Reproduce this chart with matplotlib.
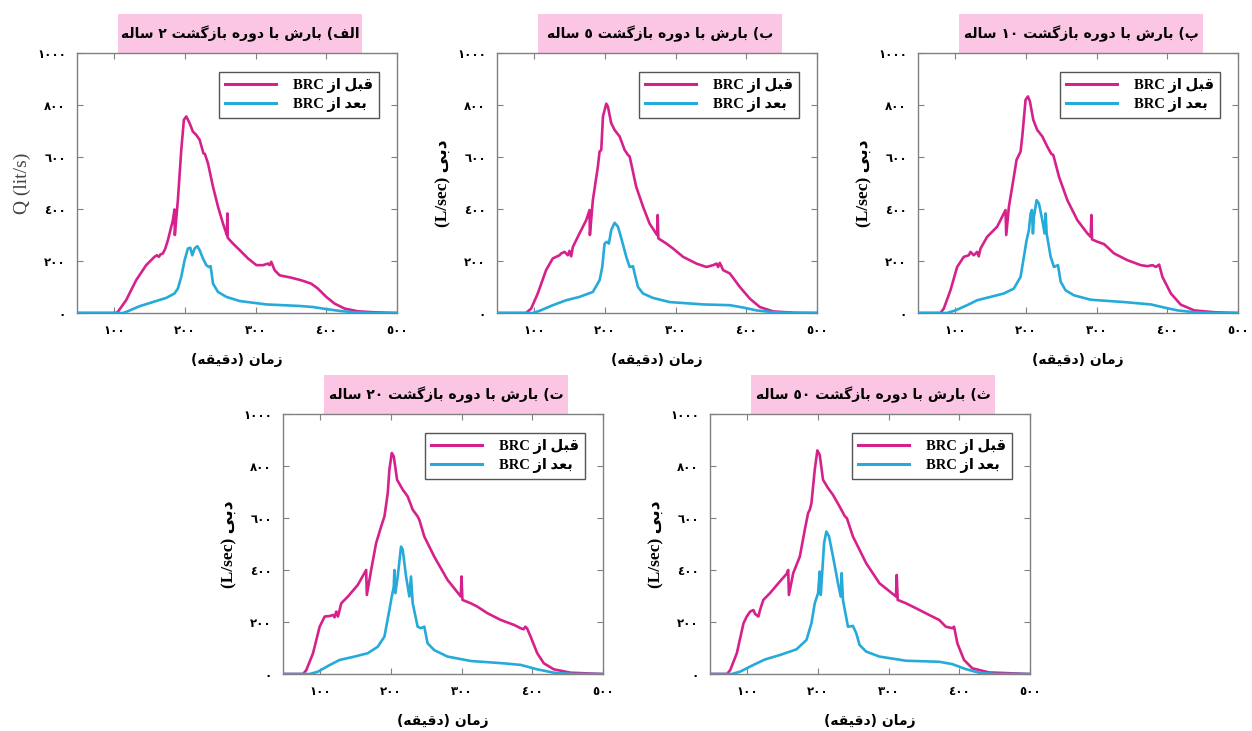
import re
import matplotlib
matplotlib.use('Agg')
import matplotlib.pyplot as plt
from matplotlib.patches import Rectangle
from matplotlib.ticker import FuncFormatter

# ---- data ----
titles = ['الف) بارش با دوره بازگشت ۲ ساله',
          'ب) بارش با دوره بازگشت ۵ ساله',
          'پ) بارش با دوره بازگشت ۱۰ ساله',
          'ت) بارش با دوره بازگشت ۲۰ ساله',
          'ث) بارش با دوره بازگشت ۵۰ ساله']
series_names = ['قبل از BRC', 'بعد از BRC']
xlabel = 'زمان (دقیقه)'
ylabels = ['Q (lit/s)', 'دبی (L/sec)', 'دبی (L/sec)', 'دبی (L/sec)', 'دبی (L/sec)']
xticks = [100, 200, 300, 400, 500]
yticks = [0, 200, 400, 600, 800, 1000]

t_before_2 = [46, 102, 104.7, 116.5, 130.7, 144.9, 156.7, 160, 163, 165, 168.6, 172, 175.7, 182.7, 185, 185.5,
              189.8, 194.6, 198.3, 201.7, 206.4, 211, 215.8, 220.6, 226, 228, 232.4, 239.5, 246.6, 253.7, 258.4,
              259.3, 259.8, 260.2, 267.8, 277.3, 289, 301, 310.4, 317.3, 319.6, 322, 326.7, 333.8, 350, 364.3,
              378.5, 388, 399.8, 411.7, 425.9, 444.8, 468.4, 500]
q_before_2 = [0, 0, 4, 49, 126, 184, 216, 222, 216, 225, 229, 248, 280, 357, 398, 300, 434, 627, 743, 756, 730,
              698, 685, 666, 614, 612, 576, 486, 409, 344, 306, 300, 383, 290, 267, 242, 210, 184, 184, 190, 184,
              197, 165, 145, 136, 126, 113, 94, 62, 36, 17, 6.4, 2.6, 0]
t_after_2 = [46, 112, 116.5, 135.5, 154.4, 173.3, 185, 189.8, 194.6, 199.3, 204, 207.4, 210.2, 213.5, 217.3, 220.6,
             225.3, 230, 233.8, 236.2, 239.5, 246.6, 258.4, 277.3, 315, 362.4, 381, 400, 419, 438, 468, 500]
q_after_2 = [0, 0, 4, 26, 42, 58, 75, 94, 139, 203, 248, 251, 222, 248, 257, 242, 210, 184, 177, 180, 113, 81, 62,
             46, 33, 27, 23, 15, 8, 3, 0, 0]

t_before_5 = [46, 88, 95.3, 104.7, 116.5, 126, 135.5, 137.8, 142.6, 147.3, 149.6, 152, 154.4, 163.8, 173.3, 178,
              178.5, 182.7, 189.8, 192.2, 194.6, 197, 201.7, 204, 208.7, 213.5, 220.6, 227.7, 232.4, 234.8, 244,
              253.7, 263, 273.5, 274.5, 275.4, 286.8, 296.2, 310.4, 329.3, 343.5, 353, 357.7, 360, 362.4, 367.1,
              376.6, 390.8, 405, 419, 438, 468, 500]
q_before_5 = [0, 0, 17, 75, 165, 210, 222, 229, 235, 222, 239, 218, 254, 306, 357, 396, 300, 434, 563, 621, 627,
              756, 805, 794, 730, 704, 679, 627, 608, 602, 486, 409, 344, 300, 377, 287, 267, 248, 216, 190, 177,
              184, 190, 177, 193, 165, 152, 100, 55, 23, 6, 1, 0]
t_after_5 = [46, 97.6, 107, 126, 144.9, 163.8, 182.7, 192.2, 196, 199.3, 202.6, 205.4, 208.7, 213.5, 218.2, 223,
             230, 234.8, 239.5, 241.8, 246.6, 253.7, 267.8, 291.5, 338.8, 376.6, 395.5, 414.4, 438, 468, 500]
q_after_5 = [0, 0, 8, 30, 49, 62, 81, 126, 177, 267, 274, 267, 319, 347, 332, 287, 216, 177, 180, 152, 100, 75, 58,
             42, 33, 30, 21, 10, 3, 0, 0]

t_before_10 = [46, 78.7, 83.5, 92.9, 102.4, 111.8, 118.9, 121.3, 126, 130.7, 133, 135.5, 144.9, 159.1, 170.9,
               171.9, 175.7, 182.7, 186.5, 192.2, 194.6, 199.3, 202.6, 205.4, 210.2, 215.8, 223, 230, 235.7, 238.5,
               246.6, 258.4, 272.6, 286.8, 291.5, 292.4, 293.4, 301, 310.4, 324.6, 343.5, 362.4, 371.9, 379, 383.7,
               388.4, 393, 405, 419, 438, 468, 500]
q_before_10 = [0, 0, 17, 87, 177, 216, 222, 235, 222, 235, 218, 248, 293, 332, 396, 300, 409, 524, 589, 621, 679,
               820, 833, 814, 743, 704, 679, 640, 612, 608, 524, 434, 357, 306, 293, 377, 283, 274, 265, 229, 203,
               184, 180, 184, 177, 186, 139, 75, 32, 10, 2.6, 0]
t_after_10 = [46, 88, 100, 116.5, 130.7, 149.6, 168.6, 182.7, 192.2, 196.9, 200.7, 204, 206.4, 208.3, 209.7, 211.1,
              214.9, 218.2, 223, 226.2, 227.7, 229.1, 234.8, 239.5, 245.2, 249, 256, 267.8, 291.5, 338.8, 376.6,
              395.5, 414.4, 438, 468, 500]
q_after_10 = [0, 0, 10, 30, 49, 62, 75, 94, 139, 216, 280, 319, 383, 396, 306, 370, 434, 421, 357, 306, 383, 306,
              216, 177, 184, 120, 87, 68, 51, 42, 33, 21, 10, 3, 0, 0]

t_before_20 = [48, 75.4, 80, 89.5, 98.9, 106, 113, 117.7, 120, 122.4, 124.8, 129.5, 138.9, 153, 164.7, 165.7,
               171.8, 178.8, 185.9, 190.6, 192, 195.3, 197.6, 201, 203.8, 208.5, 216.5, 223.5, 230.6, 237.6, 240,
               247, 261, 279.9, 298.7, 299.7, 301, 312.8, 322.2, 336.3, 355.1, 373.9, 383.4, 387.5, 390, 392.4,
               397.5, 406.9, 416.3, 430.4, 453.9, 500]
q_before_20 = [0, 0, 15, 80, 182, 221, 223, 227, 218, 240, 221, 272, 298, 343, 400, 304, 400, 503, 567, 606, 632,
               696, 786, 850, 837, 747, 709, 683, 632, 606, 593, 529, 452, 362, 298, 375, 285, 272, 259, 234, 208,
               189, 176, 172, 182, 176, 144, 80, 41, 18, 5, 0]
t_after_20 = [48, 84.8, 96.6, 110.7, 127.1, 148.3, 167.1, 181.2, 190.6, 197.6, 201, 203.8, 204.7, 206.1, 209.4,
              214.1, 216.5, 221.2, 225.9, 228.2, 230.6, 237.6, 242.3, 247, 251.7, 261, 279.9, 312.8, 359.8, 383.4,
              406.9, 430.4, 458.6, 500]
q_after_20 = [0, 0, 9, 31, 54, 67, 80, 105, 144, 246, 298, 336, 400, 311, 375, 490, 478, 375, 298, 375, 272, 182,
              176, 182, 118, 92, 67, 50, 41, 35, 18, 5, 0, 0]

t_before_50 = [48, 71, 75.6, 85, 94.4, 99, 103.8, 108.5, 110.8, 115.5, 117.8, 122.5, 131.9, 146, 155.4, 157.7,
               158.7, 164.8, 174.2, 181.2, 185.9, 188.3, 190.6, 195.3, 199, 202.3, 207, 214.1, 221.1, 230.5, 237.6,
               240.8, 249.3, 268.1, 286.9, 310.3, 311.3, 312.7, 324.4, 338.5, 357.3, 371.4, 380.8, 390.1, 392.5,
               397.2, 406.6, 418.3, 441.8, 500]
q_before_50 = [0, 0, 15, 80, 195, 221, 240, 246, 231, 221, 246, 285, 311, 356, 385, 400, 304, 388, 452, 555, 619,
               632, 657, 786, 860, 843, 747, 715, 689, 644, 608, 599, 529, 426, 349, 298, 381, 285, 272, 253, 227,
               208, 182, 176, 182, 118, 54, 22, 6, 0]
t_after_50 = [48, 78, 89.7, 108.5, 124.9, 146, 169.5, 183.6, 190.6, 195.3, 200, 202.3, 203.8, 206.1, 208.5, 211.7,
              215.5, 221.1, 228.2, 232, 233.4, 235.2, 242.3, 249.3, 254, 258.7, 268.1, 286.9, 324.4, 371.4, 390.1,
              408.9, 427.7, 451, 500]
q_after_50 = [0, 0, 9, 35, 56, 73, 95, 131, 195, 272, 311, 394, 304, 400, 503, 548, 529, 452, 349, 298, 388, 285,
              182, 185, 157, 112, 86, 67, 51, 47, 38, 19, 5, 0, 0]

before = [(t_before_2, q_before_2), (t_before_5, q_before_5), (t_before_10, q_before_10),
          (t_before_20, q_before_20), (t_before_50, q_before_50)]
after = [(t_after_2, q_after_2), (t_after_5, q_after_5), (t_after_10, q_after_10),
         (t_after_20, q_after_20), (t_after_50, q_after_50)]

# ---- minimal persian shaping (matplotlib has no shaping / bidi) ----
# isolated, final, initial, medial
FORMS = {
    'ا': ('\uFE8D', '\uFE8E', None, None),
    'ب': ('\uFE8F', '\uFE90', '\uFE91', '\uFE92'),
    'پ': ('\uFB56', '\uFB57', '\uFB58', '\uFB59'),
    'ت': ('\uFE95', '\uFE96', '\uFE97', '\uFE98'),
    'ث': ('\uFE99', '\uFE9A', '\uFE9B', '\uFE9C'),
    'د': ('\uFEA9', '\uFEAA', None, None),
    'ر': ('\uFEAD', '\uFEAE', None, None),
    'ز': ('\uFEAF', '\uFEB0', None, None),
    'س': ('\uFEB1', '\uFEB2', '\uFEB3', '\uFEB4'),
    'ش': ('\uFEB5', '\uFEB6', '\uFEB7', '\uFEB8'),
    'ع': ('\uFEC9', '\uFECA', '\uFECB', '\uFECC'),
    'ف': ('\uFED1', '\uFED2', '\uFED3', '\uFED4'),
    'ق': ('\uFED5', '\uFED6', '\uFED7', '\uFED8'),
    'گ': ('\uFB92', '\uFB93', '\uFB94', '\uFB95'),
    'ل': ('\uFEDD', '\uFEDE', '\uFEDF', '\uFEE0'),
    'م': ('\uFEE1', '\uFEE2', '\uFEE3', '\uFEE4'),
    'ن': ('\uFEE5', '\uFEE6', '\uFEE7', '\uFEE8'),
    'ه': ('\uFEE9', '\uFEEA', '\uFEEB', '\uFEEC'),
    'و': ('\uFEED', '\uFEEE', None, None),
    'ی': ('\uFBFC', '\uFBFD', '\uFBFE', '\uFBFF'),
}
DIGITS = str.maketrans('۰۱۲۳۴۵۶۷۸۹0123456789', '٠١٢٣٤٥٦٧٨٩٠١٢٣٤٥٦٧٨٩')


def fa(text):
    text = text.translate(DIGITS)
    out = []
    for i, c in enumerate(text):
        if c not in FORMS:
            out.append(c)
            continue
        prev = text[i - 1] if i > 0 else ''
        nxt = text[i + 1] if i + 1 < len(text) else ''
        jp = prev in FORMS and FORMS[prev][2] is not None
        jn = nxt in FORMS and FORMS[c][2] is not None
        iso, fin, ini, med = FORMS[c]
        out.append(med if (jp and jn) else fin if jp else ini if jn else iso)
    s = ''.join(out)[::-1]
    s = s.translate(str.maketrans('()', ')('))
    # put latin words and numbers back in reading order
    return re.sub(r'[A-Za-z0-9٠-٩/]+', lambda m: m.group(0)[::-1], s)


def fa_num(v, pos):
    return str(int(v)).translate(DIGITS)


MAGENTA = '#d6218c'
BLUE = '#26aad9'
PINK = '#fac6e3'
FRAME = '#808080'
FA = ['DejaVu Sans']
LAT_FA = ['Liberation Serif', 'DejaVu Sans']

W, H = 1252, 731
# axes boxes in pixels: left, top
boxes = [(77, 53), (497, 53), (918, 53), (283, 414), (710, 414)]
aw, ah = 320, 260

fig = plt.figure(figsize=(W / 100, H / 100), dpi=100)

for k in range(5):
    l, tp = boxes[k]
    ax = fig.add_axes([l / W, 1 - (tp + ah) / H, aw / W, ah / H])
    tb, qb = before[k]
    ta, qa = after[k]
    ax.plot(tb, qb, color=MAGENTA, lw=1.9, label=fa(series_names[0]), zorder=3)
    ax.plot(ta, qa, color=BLUE, lw=1.9, label=fa(series_names[1]), zorder=3)
    ax.set_xlim(47, 500)
    ax.set_ylim(0, 1000)
    ax.set_xticks(xticks)
    ax.set_yticks(yticks)
    ax.xaxis.set_major_formatter(FuncFormatter(fa_num))
    ax.yaxis.set_major_formatter(FuncFormatter(fa_num))
    ax.tick_params(direction='in', top=True, right=True, length=4, width=0.8, color=FRAME,
                   labelsize=8.5, pad=8)
    for lab in ax.get_xticklabels() + ax.get_yticklabels():
        lab.set_family(FA)
        lab.set_fontweight('bold')
    for sp in ax.spines.values():
        sp.set_color(FRAME)
        sp.set_linewidth(1.0)

    # pink title box sitting on top of the axes
    ax.add_patch(Rectangle((41 / aw, 1.0), 244 / aw, 39 / ah, transform=ax.transAxes,
                           facecolor=PINK, edgecolor='none', clip_on=False, zorder=0))
    ax.text((41 + 122) / aw, 1.0 + 19.5 / ah, fa(titles[k]), transform=ax.transAxes,
            ha='center', va='center', fontsize=10, fontweight='bold', family=FA)

    ax.set_xlabel(fa(xlabel), family=FA, fontsize=10, fontweight='bold')
    ax.xaxis.set_label_coords(0.5, -40 / ah)
    if k == 0:
        ax.set_ylabel(ylabels[k], family=['Liberation Serif'], fontsize=14, color='#444444')
    else:
        ax.set_ylabel(fa(ylabels[k]), family=LAT_FA, fontsize=12.5, fontweight='bold')
    ax.yaxis.set_label_coords(-46 / aw, 0.5)

    leg = ax.legend(loc='upper right', bbox_to_anchor=(302 / aw, 1 - 19 / ah), borderaxespad=0,
                    fancybox=False, edgecolor='#555555', framealpha=1, handlelength=3.5,
                    handletextpad=1.2, borderpad=0.4, labelspacing=0.3,
                    prop={'family': LAT_FA, 'weight': 'bold', 'size': 10.5})
    leg.get_frame().set_linewidth(1.0)
    for line in leg.get_lines():
        line.set_linewidth(2.2)

fig.savefig('out.png', dpi=100)
plt.close(fig)
